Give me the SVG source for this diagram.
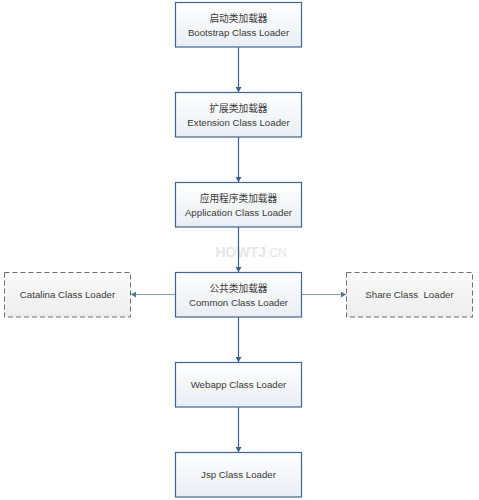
<svg xmlns="http://www.w3.org/2000/svg" width="479" height="500" viewBox="0 0 479 500">
<defs>
<linearGradient id="g" x1="0" y1="0" x2="0" y2="1">
<stop offset="0" stop-color="#ffffff"/>
<stop offset="1" stop-color="#e9edf3"/>
</linearGradient>
<linearGradient id="gd" x1="0" y1="0" x2="0" y2="1">
<stop offset="0" stop-color="#fafafa"/>
<stop offset="1" stop-color="#ededed"/>
</linearGradient>
<marker id="ah" markerWidth="6" markerHeight="6" refX="5" refY="3" orient="auto" markerUnits="userSpaceOnUse">
<path d="M0,0 L5,3 L0,6 Z" fill="#3b5f8a"/>
</marker>
<marker id="ahl" markerWidth="6" markerHeight="6" refX="5" refY="3" orient="auto" markerUnits="userSpaceOnUse">
<path d="M0,0 L5,3 L0,6 Z" fill="#4f77a6"/>
</marker>
</defs>
<style>
.box{fill:url(#g);stroke:#3e6593;stroke-width:1.2}
.dbox{fill:url(#gd);stroke:#6f6f6f;stroke-width:1;stroke-dasharray:5,3}
.t{font-family:"Liberation Sans","Noto Sans CJK SC",Arial,sans-serif;font-size:9.7px;fill:#3a3a3a;text-anchor:middle;white-space:pre}
.v{stroke:#3b5f8a;stroke-width:1.2;fill:none;marker-end:url(#ah)}
.h{stroke:#8a9bb2;stroke-width:1;fill:none;marker-end:url(#ahl)}
.wm{font-family:"Liberation Sans",Arial,sans-serif;font-size:14px;font-weight:bold;fill:#e6e6e6;text-anchor:middle}
</style>
<rect width="479" height="500" fill="#ffffff"/>
<text class="wm" x="251" y="257">HOWTJ<tspan font-weight="normal" font-size="12">.CN</tspan></text>
<g id="connectors">
<line class="v" x1="238.5" y1="47" x2="238.5" y2="92"/>
<line class="v" x1="238.5" y1="137" x2="238.5" y2="182"/>
<line class="v" x1="238.5" y1="227" x2="238.5" y2="272"/>
<line class="v" x1="238.5" y1="317" x2="238.5" y2="362"/>
<line class="v" x1="238.5" y1="407" x2="238.5" y2="452"/>
<line class="h" x1="175" y1="294.5" x2="131" y2="294.5"/>
<line class="h" x1="302" y1="294.5" x2="346" y2="294.5"/>
</g>
<g id="bootstrap">
<rect class="box" x="175.5" y="2.5" width="126" height="44.5"/>
<text class="t" x="238.5" y="22">启动类加载器</text>
<text class="t" x="238.5" y="36">Bootstrap Class Loader</text>
</g>
<g id="extension">
<rect class="box" x="175.5" y="92.5" width="126" height="44.5"/>
<text class="t" x="238.5" y="112">扩展类加载器</text>
<text class="t" x="238.5" y="126">Extension Class Loader</text>
</g>
<g id="application">
<rect class="box" x="175.5" y="182.5" width="126" height="44.5"/>
<text class="t" x="238.5" y="202">应用程序类加载器</text>
<text class="t" x="238.5" y="216">Application Class Loader</text>
</g>
<g id="common">
<rect class="box" x="175.5" y="272.5" width="126" height="44.5"/>
<text class="t" x="238.5" y="292">公共类加载器</text>
<text class="t" x="238.5" y="306">Common Class Loader</text>
</g>
<g id="catalina">
<rect class="dbox" x="4.5" y="272.5" width="126" height="44.5"/>
<text class="t" x="67.5" y="298">Catalina Class Loader</text>
</g>
<g id="share">
<rect class="dbox" x="346.5" y="272.5" width="126" height="44.5"/>
<text class="t" x="409.5" y="298" xml:space="preserve">Share Class  Loader</text>
</g>
<g id="webapp">
<rect class="box" x="175.5" y="362.5" width="126" height="44.5"/>
<text class="t" x="238.5" y="388">Webapp Class Loader</text>
</g>
<g id="jsp">
<rect class="box" x="175.5" y="452.5" width="126" height="44.5"/>
<text class="t" x="238.5" y="478">Jsp Class Loader</text>
</g>
</svg>
